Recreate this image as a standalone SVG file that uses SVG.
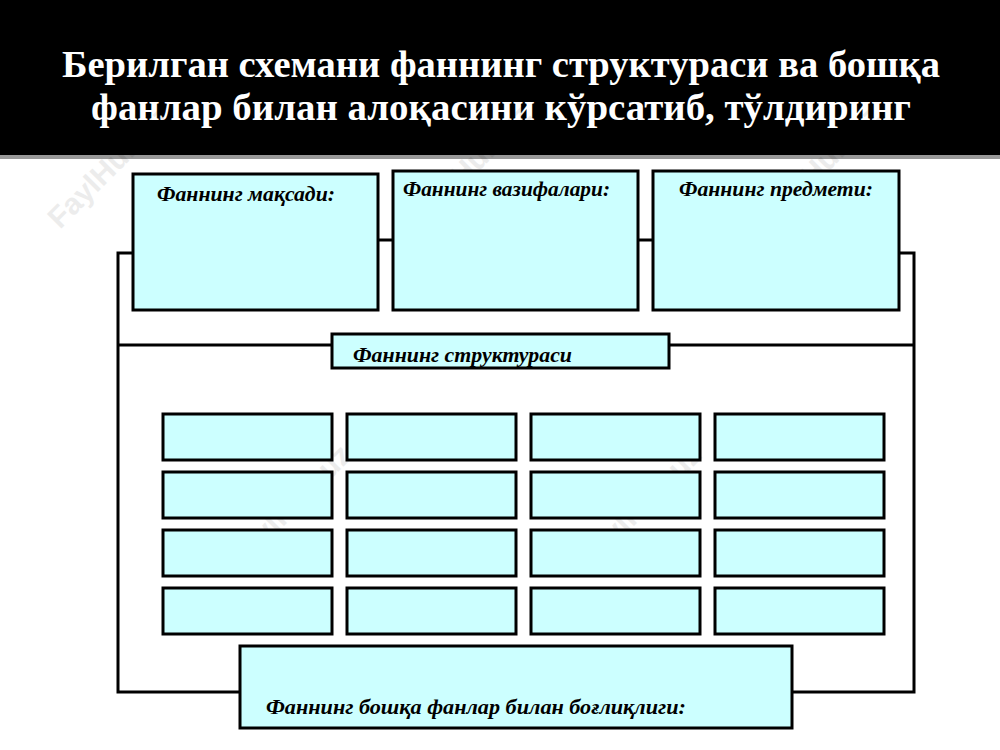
<svg xmlns="http://www.w3.org/2000/svg" width="1000" height="750" viewBox="0 0 1000 750">
<style>
.b{fill:#ccffff;stroke:#000;stroke-width:3}
.l{stroke:#000;stroke-width:3;fill:none}
.t{font-family:"Liberation Serif",serif;font-style:italic;font-weight:bold;font-size:20px;fill:#000}
.h{font-family:"Liberation Serif",serif;font-weight:bold;font-size:37px;fill:#fff;text-anchor:middle}
.w{font-family:"Liberation Sans",sans-serif;font-weight:bold;font-size:30px;fill:#000;opacity:0.07}
</style>
<rect width="1000" height="750" fill="#fff"/>
<rect x="0" y="150" width="1000" height="9" fill="#999"/>
<rect x="0" y="0" width="1000" height="155" fill="#000"/>
<text class="h" x="501" y="77" textLength="878" lengthAdjust="spacingAndGlyphs">Берилган схемани фаннинг структураси ва бошқа</text>
<text class="h" x="501" y="120" textLength="820" lengthAdjust="spacingAndGlyphs">фанлар билан алоқасини кўрсатиб, тўлдиринг</text>
<g id="watermarks">
<text class="w" transform="translate(60,230) rotate(-45)">FaylHub.uz</text>
<text class="w" transform="translate(420,230) rotate(-45)">FaylHub.uz</text>
<text class="w" transform="translate(770,230) rotate(-45)">FaylHub.uz</text>
<text class="w" transform="translate(240,570) rotate(-45)">FaylHub.uz</text>
<text class="w" transform="translate(590,570) rotate(-45)">FaylHub.uz</text>
</g>
<g id="connectors">
<polyline class="l" points="133,253 118,253 118,692 240,692"/>
<polyline class="l" points="899,253 914,253 914,692 792,692"/>
<line class="l" x1="118" y1="345" x2="332" y2="345"/>
<line class="l" x1="669" y1="345" x2="914" y2="345"/>
<line class="l" x1="378" y1="240" x2="393" y2="240"/>
<line class="l" x1="638" y1="240" x2="653" y2="240"/>
</g>
<g id="maqsad"><rect class="b" x="133" y="174" width="245" height="136"/><text class="t" x="157" y="201" textLength="178" lengthAdjust="spacingAndGlyphs">Фаннинг мақсади:</text></g>
<g id="vazifa"><rect class="b" x="393" y="171" width="245" height="139"/><text class="t" x="403" y="196" textLength="207" lengthAdjust="spacingAndGlyphs">Фаннинг вазифалари:</text></g>
<g id="predmet"><rect class="b" x="653" y="171" width="246" height="139"/><text class="t" x="679" y="196" textLength="194" lengthAdjust="spacingAndGlyphs">Фаннинг предмети:</text></g>
<g id="struktura"><rect class="b" x="332" y="334" width="337" height="34"/><text class="t" x="353" y="362" textLength="219" lengthAdjust="spacingAndGlyphs">Фаннинг структураси</text></g>
<g id="grid">
<rect class="b" x="163" y="414" width="169" height="46"/><rect class="b" x="347" y="414" width="169" height="46"/><rect class="b" x="531" y="414" width="169" height="46"/><rect class="b" x="715" y="414" width="169" height="46"/>
<rect class="b" x="163" y="472" width="169" height="46"/><rect class="b" x="347" y="472" width="169" height="46"/><rect class="b" x="531" y="472" width="169" height="46"/><rect class="b" x="715" y="472" width="169" height="46"/>
<rect class="b" x="163" y="530" width="169" height="46"/><rect class="b" x="347" y="530" width="169" height="46"/><rect class="b" x="531" y="530" width="169" height="46"/><rect class="b" x="715" y="530" width="169" height="46"/>
<rect class="b" x="163" y="588" width="169" height="46"/><rect class="b" x="347" y="588" width="169" height="46"/><rect class="b" x="531" y="588" width="169" height="46"/><rect class="b" x="715" y="588" width="169" height="46"/>
</g>
<g id="boglik"><rect class="b" x="240" y="646" width="552" height="82"/><text class="t" x="266" y="714" textLength="420" lengthAdjust="spacingAndGlyphs">Фаннинг бошқа фанлар билан боғлиқлиги:</text></g>
</svg>
